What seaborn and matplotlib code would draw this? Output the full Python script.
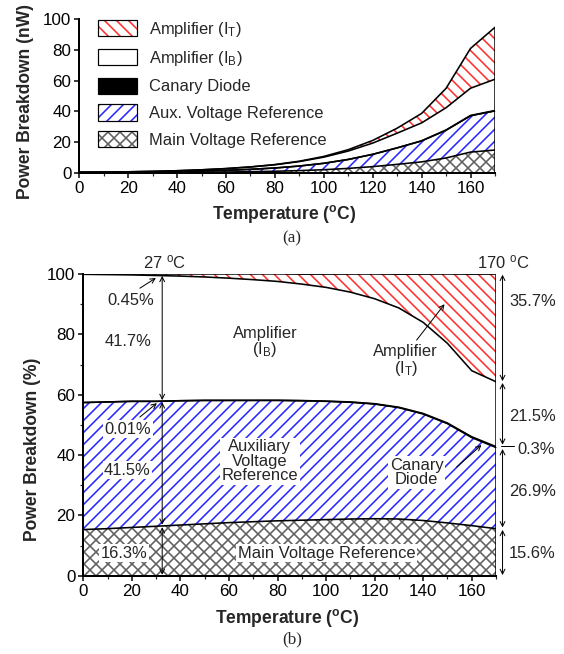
import numpy as np
import pandas as pd
import matplotlib
matplotlib.use('Agg')
import matplotlib.pyplot as plt
from matplotlib.patches import Patch
from matplotlib.ticker import MultipleLocator
import seaborn as sns

# temperature sweep (degC)
temps = [0, 10, 20, 30, 40, 50, 60, 70, 80, 90, 100, 110, 120, 130, 140, 150, 160, 170]

# total power (nW)
total_nw = [0.3, 0.4, 0.6, 0.9, 1.3, 1.9, 2.7, 3.8, 5.3, 7.5, 10.6, 15.0, 21.0, 29.0, 38.6, 54.9, 80.9, 94.6]

# share of each block (%)
main_ref_pct = [15.3, 15.6, 16.0, 16.4, 16.8, 17.2, 17.6, 17.9, 18.2, 18.4, 18.6, 18.8, 18.9, 18.8, 18.3, 17.5, 16.6, 15.6]
aux_ref_pct = [42.1, 42.0, 41.8, 41.4, 41.2, 40.9, 40.5, 40.2, 39.9, 39.6, 39.2, 38.7, 38.0, 36.9, 35.3, 32.9, 29.2, 26.9]
canary_pct = [0.005, 0.007, 0.009, 0.011, 0.015, 0.02, 0.027, 0.036, 0.048, 0.06, 0.08, 0.1, 0.12, 0.15, 0.18, 0.22, 0.26, 0.30]
amp_ib_pct = [42.5, 42.2, 41.9, 41.7, 41.3, 40.9, 40.5, 40.0, 39.4, 38.6, 37.7, 36.4, 34.8, 32.9, 30.2, 26.4, 21.9, 21.5]
amp_it_pct = [0.1, 0.2, 0.3, 0.5, 0.7, 1.0, 1.4, 1.9, 2.5, 3.3, 4.4, 6.0, 8.2, 11.2, 16.0, 23.0, 32.0, 35.7]

layer_names = ['Main Voltage Reference', 'Aux. Voltage Reference', 'Canary Diode',
               'Amplifier (I$_\\mathrm{B}$)', 'Amplifier (I$_\\mathrm{T}$)']
layer_pct = [main_ref_pct, aux_ref_pct, canary_pct, amp_ib_pct, amp_it_pct]

# facecolor, hatch colour, hatch
styles = [
    ('white', '#606060', 'xx'),
    ('white', '#2a2aff', '//'),
    ('black', 'black', None),
    ('white', 'white', None),
    ('white', '#ff3030', '\\\\'),
]

sns.set_theme(style='ticks')
plt.rcParams['font.family'] = ['Liberation Sans', 'DejaVu Sans']
plt.rcParams['mathtext.fontset'] = 'custom'
plt.rcParams['mathtext.rm'] = 'Liberation Sans'
plt.rcParams['mathtext.it'] = 'Liberation Sans:italic'
plt.rcParams['mathtext.bf'] = 'Liberation Sans:bold'
plt.rcParams['hatch.linewidth'] = 1.6
plt.rcParams['axes.linewidth'] = 2.0

FS = 16.5
TICK_FS = 17
LABEL_FS = 17.5

fig = plt.figure(figsize=(564 / 72, 654 / 72), dpi=72)
ax_a = fig.add_axes([0.1406, 0.7359, 0.737, 0.235])
ax_b = fig.add_axes([0.1477, 0.1197, 0.7317, 0.4613])

df = pd.DataFrame({'T': temps, 'total': total_nw})
for name, pct in zip(layer_names, layer_pct):
    df[name] = pct


def draw_stack(ax, values):
    lower = np.zeros(len(temps))
    for vals, (fc, hc, hatch) in zip(values, styles):
        upper = lower + np.asarray(vals)
        ax.fill_between(df['T'], lower, upper, facecolor=fc, edgecolor=hc,
                        hatch=hatch, linewidth=0, zorder=1)
        sns.lineplot(x=df['T'], y=upper, color='black', lw=1.6, ax=ax, zorder=3)
        lower = upper
    ax.plot([temps[-1], temps[-1]], [0, lower[-1]], color='black', lw=2.5,
            solid_capstyle='butt', zorder=4)
    return lower


# ---- panel (a): absolute power
abs_vals = [df[n] * df['total'] / 100 for n in layer_names]
draw_stack(ax_a, abs_vals)

# ---- panel (b): percentage
draw_stack(ax_b, [df[n] for n in layer_names])

for ax in (ax_a, ax_b):
    ax.set_xlim(0, 170)
    ax.set_ylim(0, 100)
    ax.xaxis.set_major_locator(MultipleLocator(20))
    ax.xaxis.set_minor_locator(MultipleLocator(10))
    ax.yaxis.set_major_locator(MultipleLocator(20))
    ax.tick_params(which='major', length=5, width=1.5, labelsize=TICK_FS, pad=3, colors='black')
    ax.tick_params(which='minor', length=3, width=1.2)
    sns.despine(ax=ax)
    for s in ('left', 'bottom'):
        ax.spines[s].set_color('black')
    ax.set_xlabel('Temperature ($\\mathbf{^{o}}$C)', fontsize=LABEL_FS, fontweight='bold')
ax_b.yaxis.set_minor_locator(MultipleLocator(10))
ax_b.tick_params(axis='y', which='minor', length=3, width=1.2, left=True)
ax_b.tick_params(axis='x', which='minor', bottom=True)
ax_a.tick_params(axis='x', which='minor', bottom=True)

ax_a.set_ylabel('Power Breakdown (nW)', fontsize=LABEL_FS, fontweight='bold')
ax_b.set_ylabel('Power Breakdown (%)', fontsize=LABEL_FS, fontweight='bold')
ax_a.yaxis.set_label_coords(-0.110, 0.466)
ax_b.yaxis.set_label_coords(-0.102, 0.42)
ax_a.xaxis.set_label_coords(0.494, -0.197)
ax_b.xaxis.set_label_coords(0.494, -0.104)

# legend (top to bottom)
handles = []
for fc, hc, hatch in styles[::-1]:
    fill = Patch(facecolor=fc, edgecolor=hc, hatch=hatch, linewidth=0)
    frame = Patch(facecolor='none', edgecolor='black', linewidth=1.2)
    handles.append((fill, frame))
ax_a.legend(handles, layer_names[::-1], loc='upper left', bbox_to_anchor=(0.045, 0.995),
            frameon=False, fontsize=FS, handlelength=2.35, handleheight=1.15,
            handletextpad=0.75, labelspacing=0.6, borderpad=0, borderaxespad=0)

# ---- annotations on panel (b)
arr2 = dict(arrowstyle='<->', color='black', lw=1.0, shrinkA=0, shrinkB=0)
arr1 = dict(arrowstyle='->', color='black', lw=1.0, shrinkA=0, shrinkB=0)
box = dict(facecolor='white', edgecolor='none', pad=1.5)

ax_b.text(33.7, 104, '27 $^{\\mathrm{o}}$C', fontsize=FS, ha='center', va='center', clip_on=False)
ax_b.text(173, 104, '170 $^{\\mathrm{o}}$C', fontsize=FS, ha='center', va='center', clip_on=False)

for y0, y1 in [(99.4, 58.2), (57.5, 16.9), (16.1, 0.3)]:
    ax_b.annotate('', xy=(32.5, y1), xytext=(32.5, y0), arrowprops=arr2, zorder=5)
for y0, y1 in [(99.8, 64.5), (63.9, 43.4), (42.0, 16.0), (15.2, 0.2)]:
    ax_b.annotate('', xy=(172.7, y1), xytext=(172.7, y0), arrowprops=arr2,
                  annotation_clip=False, zorder=5)
ax_b.plot([172.2, 177.6], [43.0, 43.0], color='black', lw=1.0, clip_on=False)

ax_b.annotate('', xy=(29.9, 98.7), xytext=(23.3, 95.3), arrowprops=arr1, zorder=5)
ax_b.annotate('', xy=(30.3, 57.2), xytext=(23.3, 52.6), arrowprops=arr1, zorder=5)
ax_b.annotate('', xy=(164.0, 43.3), xytext=(153.8, 36.0), arrowprops=arr1, zorder=5)
ax_b.annotate('', xy=(148.8, 90.0), xytext=(137.3, 78.1), arrowprops=arr1, zorder=5)

left_labels = [(19.7, 91.3, '0.45%'), (18.4, 77.6, '41.7%'), (18.4, 48.6, '0.01%'),
               (18.2, 35.0, '41.5%'), (16.8, 7.4, '16.3%')]
for x, y, s in left_labels:
    ax_b.text(x, y, s, fontsize=FS, ha='center', va='center', bbox=box, zorder=6)

right_labels = [(185, 90.9, '35.7%'), (185, 52.8, '21.5%'), (186.6, 42.0, '0.3%'),
                (185, 27.9, '26.9%'), (185, 7.4, '15.6%')]
for x, y, s in right_labels:
    ax_b.text(x, y, s, fontsize=FS, ha='center', va='center', clip_on=False)

ax_b.text(74.8, 77.4, 'Amplifier\n(I$_\\mathrm{B}$)', fontsize=FS, ha='center', va='center',
          linespacing=0.95)
ax_b.text(132.8, 71.2, 'Amplifier\n(I$_\\mathrm{T}$)', fontsize=FS, ha='center', va='center',
          linespacing=0.95, zorder=6)
ax_b.text(72.7, 37.9, 'Auxiliary\nVoltage\nReference', fontsize=FS, ha='center', va='center',
          linespacing=0.95, bbox=box, zorder=6)
ax_b.text(137.3, 34.2, 'Canary\nDiode', fontsize=FS, ha='center', va='center',
          linespacing=0.95, bbox=box, zorder=6)
ax_b.text(100.3, 7.4, 'Main Voltage Reference', fontsize=FS, ha='center', va='center',
          bbox=box, zorder=6)

fig.text(0.518, 0.636, '(a)', fontsize=17, family='Liberation Serif', ha='center', va='center')
fig.text(0.518, 0.023, '(b)', fontsize=17, family='Liberation Serif', ha='center', va='center')

fig.savefig('out.png', dpi=72)
